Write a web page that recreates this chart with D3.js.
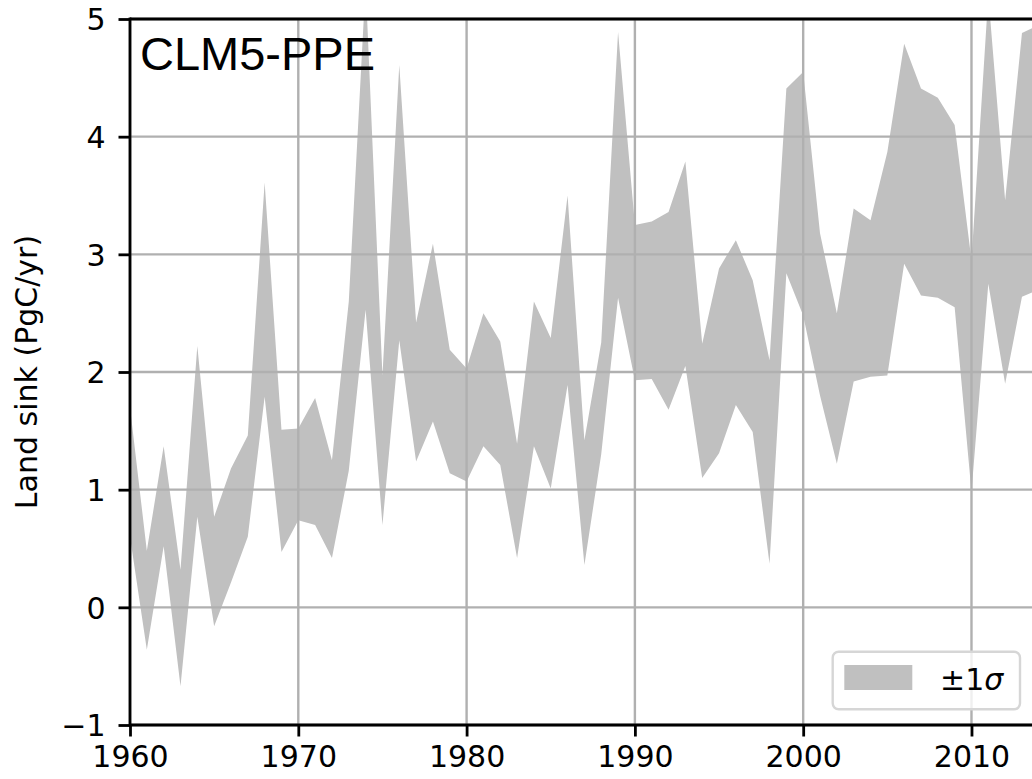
<!DOCTYPE html>
<html>
<head>
<meta charset="utf-8">
<script src="https://cdn.jsdelivr.net/npm/d3@7"></script>
<style>
  html, body { margin: 0; padding: 0; background: #ffffff; }
  svg { display: block; }
</style>
</head>
<body>
<svg id="chart" width="1032" height="779"></svg>
<script>
// ---- data ----
const years = [1960,1961,1962,1963,1964,1965,1966,1967,1968,1969,
               1970,1971,1972,1973,1974,1975,1976,1977,1978,1979,
               1980,1981,1982,1983,1984,1985,1986,1987,1988,1989,
               1990,1991,1992,1993,1994,1995,1996,1997,1998,1999,
               2000,2001,2002,2003,2004,2005,2006,2007,2008,2009,
               2010,2011,2012,2013,2014];
const upperSigma = [1.70,0.48,1.37,0.32,2.22,0.77,1.18,1.46,3.61,1.51,
                    1.52,1.78,1.25,2.60,5.30,1.97,4.61,2.42,3.09,2.19,
                    2.03,2.50,2.26,1.39,2.60,2.29,3.50,1.42,2.25,4.89,
                    3.25,3.28,3.36,3.79,2.24,2.88,3.12,2.78,2.10,4.41,
                    4.55,3.18,2.50,3.39,3.29,3.87,4.79,4.41,4.33,4.10,
                    2.95,5.20,3.46,4.88,4.95];
const lowerSigma = [0.60,-0.36,0.52,-0.67,0.77,-0.16,0.21,0.60,1.79,0.47,
                    0.74,0.70,0.42,1.16,2.53,0.70,2.27,1.24,1.58,1.14,
                    1.07,1.37,1.21,0.42,1.37,1.01,1.89,0.36,1.30,2.63,
                    1.93,1.94,1.68,2.05,1.10,1.31,1.72,1.49,0.37,2.84,
                    2.48,1.80,1.22,1.92,1.96,1.97,2.92,2.65,2.63,2.55,
                    0.98,2.75,1.90,2.64,2.70];
const xTicks = [1960,1970,1980,1990,2000,2010];
const yTicks = [-1,0,1,2,3,4,5];
const xDomain = [1960, 2014];
const yDomain = [-1, 5];
const title = "CLM5-PPE";
const yLabel = "Land sink (PgC/yr)";

// ---- layout ----
const pL = 130, pT = 19, pB = 725, pR = 1038.8;
const svg = d3.select("#chart");
const W = 1032, H = 779;

const x = d3.scaleLinear().domain(xDomain).range([pL, pR]);
const y = d3.scaleLinear().domain(yDomain).range([pB, pT]);

const rows = years.map((yr, i) => ({yr, lo: lowerSigma[i], hi: upperSigma[i]}));

svg.append("defs").append("clipPath").attr("id", "plotclip")
  .append("rect").attr("x", pL).attr("y", pT)
  .attr("width", pR - pL).attr("height", pB - pT);

// band
const area = d3.area()
  .x(d => x(d.yr))
  .y0(d => y(d.lo))
  .y1(d => y(d.hi));
svg.append("path")
  .datum(rows)
  .attr("clip-path", "url(#plotclip)")
  .attr("fill", "#c0c0c0")
  .attr("d", area);

// grid (drawn on top of the band)
const grid = svg.append("g").attr("stroke", "#b0b0b0").attr("stroke-width", 2.4);
grid.selectAll("line.v").data(xTicks).join("line").attr("class", "v")
  .attr("x1", d => x(d)).attr("x2", d => x(d))
  .attr("y1", pT).attr("y2", pB);
grid.selectAll("line.h").data(yTicks).join("line").attr("class", "h")
  .attr("x1", pL).attr("x2", pR)
  .attr("y1", d => y(d)).attr("y2", d => y(d));

// axes
const fmtY = d => (d < 0 ? "\u2212" + Math.abs(d) : String(d));
const xAxis = d3.axisBottom(x).tickValues(xTicks).tickFormat(d3.format("d"))
  .tickSizeInner(11.5).tickSizeOuter(0).tickPadding(9);
const yAxis = d3.axisLeft(y).tickValues(yTicks).tickFormat(fmtY)
  .tickSizeInner(11.5).tickSizeOuter(0).tickPadding(13);

const gx = svg.append("g").attr("transform", `translate(0,${pB})`).call(xAxis);
const gy = svg.append("g").attr("transform", `translate(${pL},0)`).call(yAxis);
[gx, gy].forEach(g => {
  g.select(".domain").remove();
  g.selectAll(".tick line").attr("stroke", "#000").attr("stroke-width", 2.8);
  g.selectAll(".tick text")
    .attr("fill", "#000")
    .style("font-family", "'DejaVu Sans', sans-serif")
    .style("font-size", "30px");
});
gy.selectAll(".tick text").attr("dy", "0.36em");

// spines
svg.append("line").attr("x1", pL).attr("x2", W).attr("y1", pT).attr("y2", pT)
  .attr("stroke", "#000").attr("stroke-width", 2.8);
svg.append("line").attr("x1", pL).attr("x2", W).attr("y1", pB).attr("y2", pB)
  .attr("stroke", "#000").attr("stroke-width", 2.8);
svg.append("line").attr("x1", pL).attr("x2", pL).attr("y1", pT - 1.4).attr("y2", pB + 1.4)
  .attr("stroke", "#000").attr("stroke-width", 2.8);

// y label
svg.append("text")
  .attr("transform", `translate(37,${(pT + pB) / 2}) rotate(-90)`)
  .attr("text-anchor", "middle")
  .style("font-family", "'DejaVu Sans', sans-serif")
  .style("font-size", "30px")
  .attr("fill", "#000")
  .text(yLabel);

// title inside plot
svg.append("text")
  .attr("x", 140).attr("y", 70)
  .style("font-family", "'Liberation Sans', Arial, sans-serif")
  .style("font-size", "47px")
  .attr("fill", "#000")
  .text(title);

// legend
const lg = svg.append("g");
lg.append("rect")
  .attr("x", 832.7).attr("y", 651.7).attr("width", 187.3).attr("height", 57.6)
  .attr("rx", 6).attr("ry", 6)
  .attr("fill", "#ffffff").attr("fill-opacity", 0.8)
  .attr("stroke", "#d6d6d6").attr("stroke-width", 2.4);
lg.append("rect")
  .attr("x", 844.3).attr("y", 665).attr("width", 68).attr("height", 25)
  .attr("fill", "#c0c0c0");
const lt = lg.append("text")
  .attr("x", 940).attr("y", 690)
  .style("font-family", "'DejaVu Sans', sans-serif")
  .style("font-size", "30px")
  .attr("fill", "#000");
lt.append("tspan").text("\u00b11");
lt.append("tspan").style("font-style", "italic").text("\u03c3");
</script>
</body>
</html>
